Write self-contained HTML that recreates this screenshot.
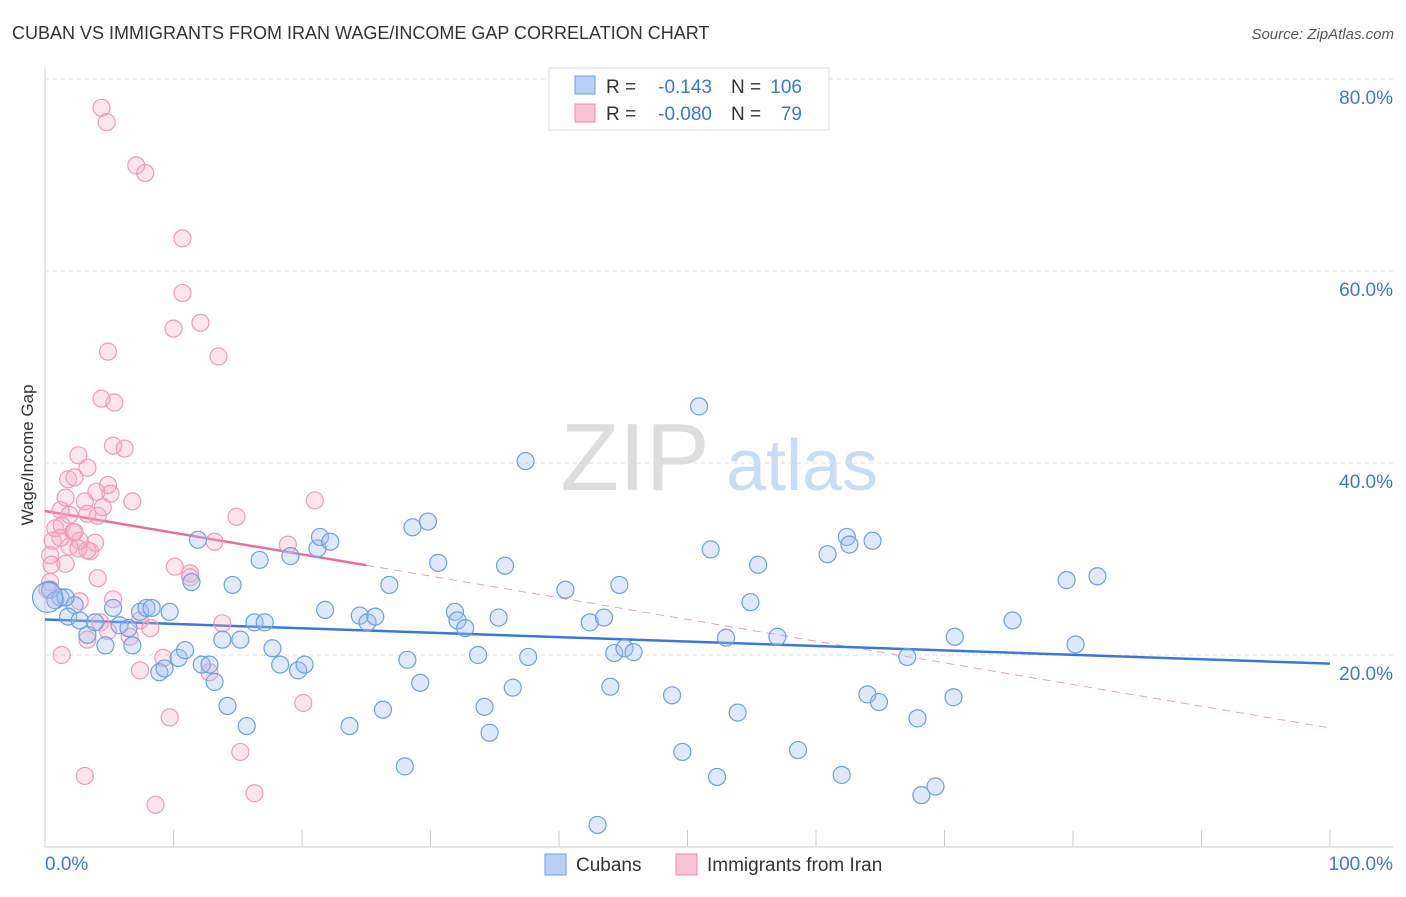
<!DOCTYPE html>
<html><head><meta charset="utf-8"><style>
body{margin:0;background:#fff;font-family:"Liberation Sans",sans-serif;}
svg text{font-family:"Liberation Sans",sans-serif;}
</style></head><body>
<svg id="chart" width="1406" height="892" viewBox="0 0 1406 892" xmlns="http://www.w3.org/2000/svg">
<text x="12" y="39" font-size="18" fill="#333">CUBAN VS IMMIGRANTS FROM IRAN WAGE/INCOME GAP CORRELATION CHART</text>
<text x="1394" y="39" font-size="15" fill="#555" text-anchor="end" font-style="italic">Source: ZipAtlas.com</text>
<g>
<text x="635" y="490" font-size="96" fill="#ddd" font-family="Liberation Serif" text-anchor="middle">ZIP</text>
<text x="802" y="490" font-size="72" fill="#c9dcf3" text-anchor="middle">atlas</text>
</g>
<g id="grid"></g>
<g id="axes"></g>
<g id="trend"></g>
<g id="points"></g>
<text transform="translate(33,455) rotate(-90)" font-size="17" fill="#333" text-anchor="middle">Wage/Income Gap</text>
<g>
<rect x="549" y="68" width="280" height="62" fill="#fff" stroke="#ddd"/>
<rect x="575" y="76" width="20" height="18" fill="#b7d0f5" stroke="#6d9ee8"/>
<rect x="575" y="104" width="20" height="18" fill="#f9c3d4" stroke="#ee8aab"/>
<text x="606" y="93" font-size="19" fill="#333">R =</text>
<text x="712" y="93" font-size="19" fill="#3a78d8" text-anchor="end">-0.143</text>
<text x="731" y="93" font-size="19" fill="#333">N =</text>
<text x="802" y="93" font-size="19" fill="#3a78d8" text-anchor="end">106</text>
<text x="606" y="120" font-size="19" fill="#333">R =</text>
<text x="712" y="120" font-size="19" fill="#3a78d8" text-anchor="end">-0.080</text>
<text x="731" y="120" font-size="19" fill="#333">N =</text>
<text x="802" y="120" font-size="19" fill="#3a78d8" text-anchor="end">79</text>
</g>
<g>
<rect x="545" y="854" width="21" height="21" fill="#b7d0f5" stroke="#6d9ee8"/>
<text x="576" y="871" font-size="19" fill="#333">Cubans</text>
<rect x="676" y="854" width="21" height="21" fill="#f9c3d4" stroke="#ee8aab"/>
<text x="707" y="871" font-size="19" fill="#333">Immigrants from Iran</text>
</g>
</svg>
<script>
const yTicks=[20,40,60,80];
const yTickLabels=["20.0%","40.0%","60.0%","80.0%"];
const xTickLabels=["0.0%","100.0%"];
const cubanX=[0.4,1.2,2.3,1.8,3.3,2.7,3.9,4.7,5.3,5.8,6.5,6.8,7.4,7.9,8.3,8.9,9.3,9.7,10.4,10.9,11.4,11.9,12.2,12.8,13.2,13.8,14.2,14.6,15.2,15.7,16.3,16.7,17.1,17.7,18.3,19.1,19.7,20.2,21.2,21.4,21.8,22.2,23.7,24.5,25.1,25.7,26.3,26.8,28.0,28.2,28.6,29.2,29.8,30.6,31.9,32.1,32.7,33.7,34.2,34.6,35.3,35.8,36.4,37.4,37.6,40.5,42.4,43.0,43.5,44.0,44.3,44.7,45.1,45.8,48.8,49.6,50.9,51.8,52.3,53.0,53.9,54.9,55.5,57.0,58.6,60.9,62.0,62.4,62.6,64.0,64.4,64.9,67.1,67.9,68.2,69.3,70.7,70.8,75.3,79.5,80.2,81.9,0.8,1.6];
const cubanY=[26.8,26.0,25.2,24.0,22.1,23.6,23.4,21.0,24.9,23.1,22.8,21.0,24.5,24.9,24.9,18.2,18.6,24.5,19.7,20.5,27.6,32.0,19.0,19.0,17.2,21.6,14.7,27.3,21.6,12.6,23.4,29.9,23.4,20.7,19.0,30.3,18.4,19.0,31.1,32.3,24.7,31.8,12.6,24.1,23.4,24.0,14.3,27.3,8.4,19.5,33.3,17.1,33.9,29.6,24.5,23.6,22.8,20.0,14.6,11.9,23.9,29.3,16.6,40.2,19.8,26.8,23.4,2.3,23.9,16.7,20.2,27.3,20.7,20.3,15.8,9.9,45.9,31.0,7.3,21.8,14.0,25.5,29.4,21.9,10.1,30.5,7.5,32.3,31.5,15.9,31.9,15.1,19.8,13.4,5.4,6.3,15.6,21.9,23.6,27.8,21.1,28.2,25.7,26.0];
const iranX=[4.4,4.8,7.1,7.8,10.7,10.7,12.1,10.0,13.5,4.9,4.4,5.4,5.3,6.2,2.6,3.3,1.8,2.3,4.9,5.1,1.6,3.1,4.0,6.8,4.1,4.5,3.3,1.2,1.9,0.8,1.3,2.2,2.7,1.9,3.5,2.6,0.6,1.2,0.4,3.9,0.5,1.6,4.1,3.3,2.3,0.4,0.2,2.7,4.3,6.6,7.4,8.2,10.1,11.3,11.3,13.2,14.9,18.9,21.0,9.2,7.4,12.8,13.8,15.2,16.3,20.1,9.7,3.1,8.6,1.3,4.9,3.3,5.3];
const iranY=[77.0,75.5,71.0,70.2,63.4,57.7,54.6,54.0,51.1,51.6,46.7,46.3,41.8,41.5,40.8,39.5,38.3,38.5,37.7,36.8,36.4,36.0,37.0,36.0,34.5,35.4,34.7,35.1,34.6,33.2,33.5,32.8,31.9,31.3,30.8,31.1,31.9,32.2,30.4,31.7,29.4,29.5,28.0,30.9,32.8,27.6,26.8,25.6,23.4,21.9,23.6,22.8,29.2,28.5,28.1,31.8,34.4,31.5,36.1,19.7,18.4,18.2,23.3,9.9,5.6,15.0,13.5,7.4,4.4,20.0,22.5,21.6,25.8];
const cubanTrend=[23.7,19.1];
const iranTrend=[35.0,12.4];
const iranSolidEnd=25;
const NS="http://www.w3.org/2000/svg";
const X0=45,X1=1330,Y0=847,Y80=79;
const sx=v=>X0+(X1-X0)*v/100;
const sy=v=>Y0-(Y0-Y80)*v/80;
function mk(tag,attrs,parent){const e=document.createElementNS(NS,tag);for(const k in attrs)e.setAttribute(k,attrs[k]);parent.appendChild(e);return e;}
const grid=document.getElementById('grid'),axes=document.getElementById('axes'),trend=document.getElementById('trend'),pts=document.getElementById('points');
yTicks.forEach((t,i)=>{
 const l=mk('line',{x1:X0,x2:1393,y1:sy(t),y2:sy(t),stroke:'#ddd','stroke-dasharray':'4,4'},grid);
 
 
 const tx=mk('text',{x:1393,y:sy(t)+25,'font-size':19,fill:'#3a78d8','text-anchor':'end'},axes);
 tx.textContent=yTickLabels[i];
 
 
});
mk('line',{x1:X0,x2:X0,y1:68,y2:Y0,stroke:'#ccc'},axes);
mk('line',{x1:X0,x2:1393,y1:847,y2:847,stroke:'#ccc'},axes);
for(let i=0;i<=10;i++){const t=mk('line',{x1:sx(i*10),x2:sx(i*10),y1:830,y2:847,stroke:'#ccc'},axes);}
[[0,'start',45],[100,'end',1393]].forEach((d,i)=>{const t=mk('text',{x:d[2],y:870,'font-size':19,fill:'#3a78d8','text-anchor':d[1]},axes);t.textContent=xTickLabels[i];});
const iy=x=>iranTrend[0]+(iranTrend[1]-iranTrend[0])*x/100;
let ln=mk('line',{x1:sx(0),y1:sy(iranTrend[0]),x2:sx(iranSolidEnd),y2:sy(iy(iranSolidEnd)),stroke:'#e8709a','stroke-width':2.5},trend);


ln=mk('line',{x1:sx(iranSolidEnd),y1:sy(iy(iranSolidEnd)),x2:sx(100),y2:sy(iranTrend[1]),stroke:'#e8a0b8','stroke-width':1,'stroke-dasharray':'8,6'},trend);


iranX.forEach((x,i)=>{const c=mk('circle',{cx:sx(x),cy:sy(iranY[i]),r:8.5,fill:'rgba(246,170,196,0.3)',stroke:'#f09ab6','stroke-width':1.2},pts);});
cubanX.forEach((x,i)=>{const c=mk('circle',{cx:sx(x),cy:sy(cubanY[i]),r:8.5,fill:'rgba(160,192,240,0.35)',stroke:'#6d9ee8','stroke-width':1.2},pts);});
const big=mk('circle',{cx:sx(0.2),cy:sy(26),r:15,fill:'rgba(160,192,240,0.35)',stroke:'#6d9ee8','stroke-width':1.2},pts);


ln=mk('line',{x1:sx(0),y1:sy(cubanTrend[0]),x2:sx(100),y2:sy(cubanTrend[1]),stroke:'#3a78d8','stroke-width':2.5},trend);


</script>
</body></html>
